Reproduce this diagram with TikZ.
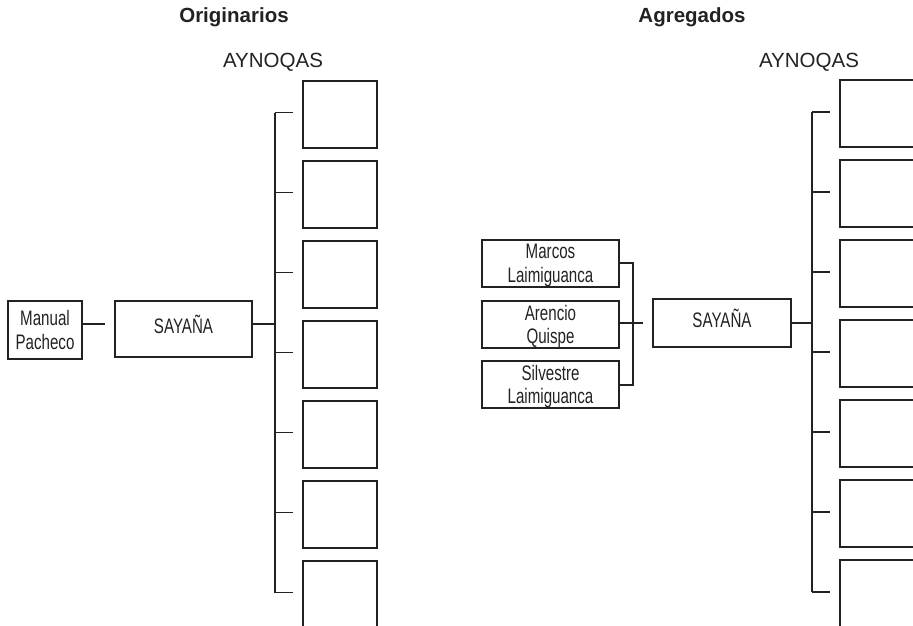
\documentclass[tikz,border=0pt]{standalone}
\usepackage{fontspec}
\setmainfont{Liberation Sans}
\newfontfamily\condfont[FakeStretch=0.72]{Liberation Sans}
\definecolor{ink}{HTML}{222222}
\begin{document}
\begin{tikzpicture}[x=1pt,y=-1pt,
  conn/.style={draw=ink, line width=1.1pt},
  box/.style={draw=ink, line width=1.1pt, inner sep=0pt, align=center,
    font=\condfont\fontsize{21}{23.5}\selectfont, text=ink},
  two/.style={text depth=0pt},
  one/.style={text height=15pt, text depth=7pt},
  sqbox/.style={draw=ink, line width=1.1pt, inner sep=0pt, minimum height=67pt},
  title/.style={font=\fontsize{20.5}{24}\selectfont\bfseries, text=ink, anchor=base, inner sep=0pt},
  head/.style={font=\fontsize{20.5}{24}\selectfont, text=ink, anchor=base, inner sep=0pt}]
\useasboundingbox (0,0) rectangle (913,626);
\clip (0,0) rectangle (913,626);

% titles
\node[title] (t1) at (234,23) {Originarios};
\node[title] (t2) at (692,23) {Agregados};
\node[head] (h1) at (273,67) {AYNOQAS};
\node[head] (h2) at (809,67) {AYNOQAS};

% left column of boxes
\foreach \k in {0,...,6} {
  \node[sqbox, minimum width=74pt] (L\k) at (340,114.5+80*\k) {};
  \coordinate (Lv\k) at (275,112.5+80*\k);
  \coordinate (Lt\k) at (293,112.5+80*\k);
  \draw[conn] (Lv\k) -- (Lt\k);
}
\draw[conn] (Lv0) -- (Lv6);

% left side
\node[box, two, minimum width=74pt, minimum height=58pt] (mp) at (45,330) {Manual\\Pacheco};
\node[box, one, minimum width=137pt, minimum height=56pt] (sl) at (183.5,329) {SAYAÑA};
\coordinate (mpend) at (105,324);
\draw[conn] (mp.east |- mpend) -- (mpend);
\coordinate (lj) at (275,324);
\draw[conn] (sl.east |- lj) -- (lj);

% right column of boxes
\foreach \k in {0,...,6} {
  \node[sqbox, minimum width=80pt] (R\k) at (880,113.5+80*\k) {};
  \coordinate (Rv\k) at (812,112+80*\k);
  \coordinate (Rt\k) at (830,112+80*\k);
  \draw[conn] (Rv\k) -- (Rt\k);
}
\draw[conn] (Rv0) -- (Rv6);

% right side
\node[box, two, minimum width=137pt, minimum height=47pt] (ma) at (550.5,263.5) {Marcos\\Laimiguanca};
\node[box, two, minimum width=137pt, minimum height=47pt] (ar) at (550.5,324.5) {Arencio\\Quispe};
\node[box, two, minimum width=137pt, minimum height=47pt] (si) at (550.5,384.5) {Silvestre\\Laimiguanca};
\node[box, one, minimum width=138pt, minimum height=48pt] (sr) at (722,323) {SAYAÑA};
\coordinate (bt) at (633,263);
\coordinate (bb) at (633,385);
\draw[conn] (ma.east |- bt) -- (bt) -- (bb) -- (si.east |- bb);
\coordinate (aj) at (643,323);
\draw[conn] (ar.east |- aj) -- (aj);
\coordinate (rj) at (812,323);
\draw[conn] (sr.east |- rj) -- (rj);
\end{tikzpicture}
\end{document}
